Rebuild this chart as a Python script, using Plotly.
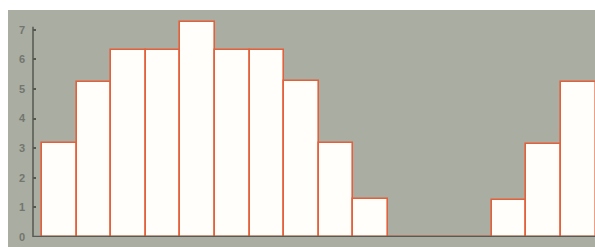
import plotly.graph_objects as go

# bin index (categories) and bar heights
bins = list(range(16))
counts = [3.18, 5.24, 6.32, 6.32, 7.26, 6.32, 6.32, 5.26, 3.18, 1.28, 0, 0, 0, 1.25, 3.15, 5.24]
ytick_vals = [0, 1, 2, 3, 4, 5, 6, 7]
ytick_text = ["0", "1", "2", "3", "4", "5", "6", "7"]

W, H = 595, 247
ml, mr, mt, mb = 33, 0, 10, 10
pw, ph = W - ml - mr, H - mt - mb

fig = go.Figure(go.Bar(
    x=bins, y=counts,
    marker=dict(color="#fffefb", line=dict(color="#e3603a", width=1.6)),
    width=1.0,
    hoverinfo="skip",
))

bg = "#a9ada2"
fig.update_layout(
    width=W, height=H,
    margin=dict(l=ml, r=mr, t=mt, b=mb),
    paper_bgcolor=bg,
    plot_bgcolor=bg,
    bargap=0,
    showlegend=False,
    shapes=[
        # white border strips of the scanned page
        dict(type="rect", xref="paper", yref="paper", layer="below",
             x0=-ml / pw, x1=1.0, y0=1.0, y1=(ph + mt) / ph,
             fillcolor="white", line=dict(width=0)),
        dict(type="rect", xref="paper", yref="paper", layer="below",
             x0=-ml / pw, x1=(8 - ml) / pw, y0=-mb / ph, y1=1.0,
             fillcolor="white", line=dict(width=0)),
        dict(type="line", xref="paper", yref="y", x0=0, x1=0, y0=0, y1=7.1,
             line=dict(color="#55584f", width=1.5)),
        dict(type="line", xref="paper", yref="y", x0=0, x1=1, y0=0, y1=0,
             line=dict(color="#585b54", width=2.5)),
    ],
)
fig.update_xaxes(range=[-0.76, 15.48], showticklabels=False, ticks="",
                 showgrid=False, zeroline=False, showline=False)
fig.update_yaxes(range=[0, ph / 29.6], tickvals=ytick_vals, ticktext=ytick_text,
                 ticks="inside", ticklen=3, tickcolor="#55584f", tickwidth=1.5,
                 showgrid=False, zeroline=False, showline=False,
                 ticklabelstandoff=7,
                 tickfont=dict(family="Liberation Sans", size=11, color="#73766e", weight="bold"))

fig.write_html("out.html", config={"displayModeBar": False},
               post_script="document.documentElement.style.overflow='hidden';document.body.style.margin='0';document.body.style.overflow='hidden';")
